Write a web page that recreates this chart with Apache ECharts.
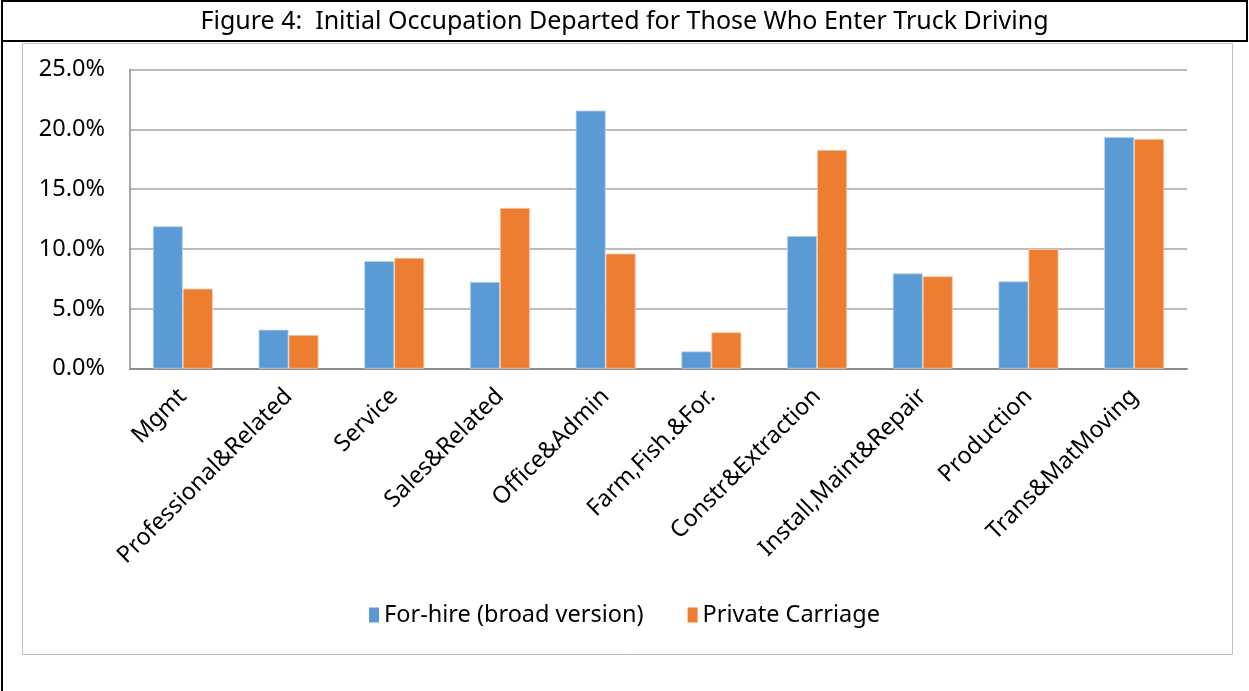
<!DOCTYPE html>
<html>
<head>
<meta charset="utf-8">
<script src="https://cdn.jsdelivr.net/npm/echarts@6/dist/echarts.min.js"></script>
<style>
  html, body { margin: 0; padding: 0; background: #fff; }
  #chart { width: 1249px; height: 691px; }
</style>
</head>
<body>
<div id="chart"></div>
<script>
// Occupation categories and shares (%)
const categories = ['Mgmt', 'Professional&Related', 'Service', 'Sales&Related', 'Office&Admin',
  'Farm,Fish.&For.', 'Constr&Extraction', 'Install,Maint&Repair', 'Production', 'Trans&MatMoving'];
const forHire = [11.9, 3.26, 9.0, 7.25, 21.57, 1.45, 11.09, 7.97, 7.3, 19.35];
const privateCarriage = [6.69, 2.82, 9.26, 13.43, 9.62, 3.04, 18.28, 7.72, 10.0, 19.2];
const yTicks = [0, 5, 10, 15, 20, 25];

const font = 'Noto Sans';
const chart = echarts.init(document.getElementById('chart'));

chart.setOption({
    animation: false,
    title: {
        text: 'Figure 4:  Initial Occupation Departed for Those Who Enter Truck Driving',
        left: 'center',
        top: 4,
        textStyle: { fontFamily: font, fontSize: 25, fontWeight: 'normal', color: '#000' }
    },
    graphic: [
        // outer black frame
        { type: 'line', shape: { x1: 2, y1: 1, x2: 1247, y2: 1 }, style: { stroke: '#000', lineWidth: 2 } },
        { type: 'line', shape: { x1: 2, y1: 41, x2: 1247, y2: 41 }, style: { stroke: '#000', lineWidth: 2 } },
        { type: 'line', shape: { x1: 2, y1: 0, x2: 2, y2: 691 }, style: { stroke: '#000', lineWidth: 2 } },
        { type: 'line', shape: { x1: 1247, y1: 0, x2: 1247, y2: 42 }, style: { stroke: '#000', lineWidth: 2 } },
        // inner chart area frame
        { type: 'rect', shape: { x: 22.5, y: 43.5, width: 1210, height: 611 },
          style: { fill: 'none', stroke: '#bfbfbf', lineWidth: 1 }, z: -1 }
    ],
    legend: {
        data: ['For-hire (broad version)', 'Private Carriage'],
        left: 'center',
        top: 598,
        itemWidth: 10,
        itemHeight: 15,
        itemGap: 44,
        icon: 'rect',
        itemStyle: { borderWidth: 0 },
        textStyle: { fontFamily: font, fontSize: 23.5, color: '#000' }
    },
    grid: { left: 130, right: 62, top: 69.5, bottom: 322.3, containLabel: false },
    xAxis: {
        type: 'category',
        data: categories,
        axisLine: { lineStyle: { color: '#8c8c8c', width: 2 } },
        axisTick: { show: false },
        axisLabel: {
            interval: 0,
            rotate: 45,
            margin: 24,
            fontFamily: font,
            fontSize: 23.5,
            color: '#000'
        }
    },
    yAxis: {
        type: 'value',
        min: yTicks[0],
        max: yTicks[yTicks.length - 1],
        interval: 5,
        axisLine: { show: true, lineStyle: { color: '#8c8c8c', width: 1.5 } },
        axisTick: { show: false },
        splitLine: { lineStyle: { color: '#a6a6a6', width: 1.5 } },
        axisLabel: {
            margin: 25,
            fontFamily: font,
            fontSize: 23.5,
            color: '#000',
            formatter: v => v.toFixed(1) + '%'
        }
    },
    series: [
        {
            name: 'For-hire (broad version)',
            type: 'bar',
            data: forHire,
            barWidth: 30,
            barGap: '0%',
            itemStyle: { color: '#5b9bd5', borderColor: '#bdd7ee', borderWidth: 0.8 }
        },
        {
            name: 'Private Carriage',
            type: 'bar',
            data: privateCarriage,
            barWidth: 30,
            barGap: '0%',
            itemStyle: { color: '#ed7d31', borderColor: '#f8cbad', borderWidth: 0.8 }
        }
    ]
});

window.addEventListener('resize', () => chart.resize());
</script>
</body>
</html>
